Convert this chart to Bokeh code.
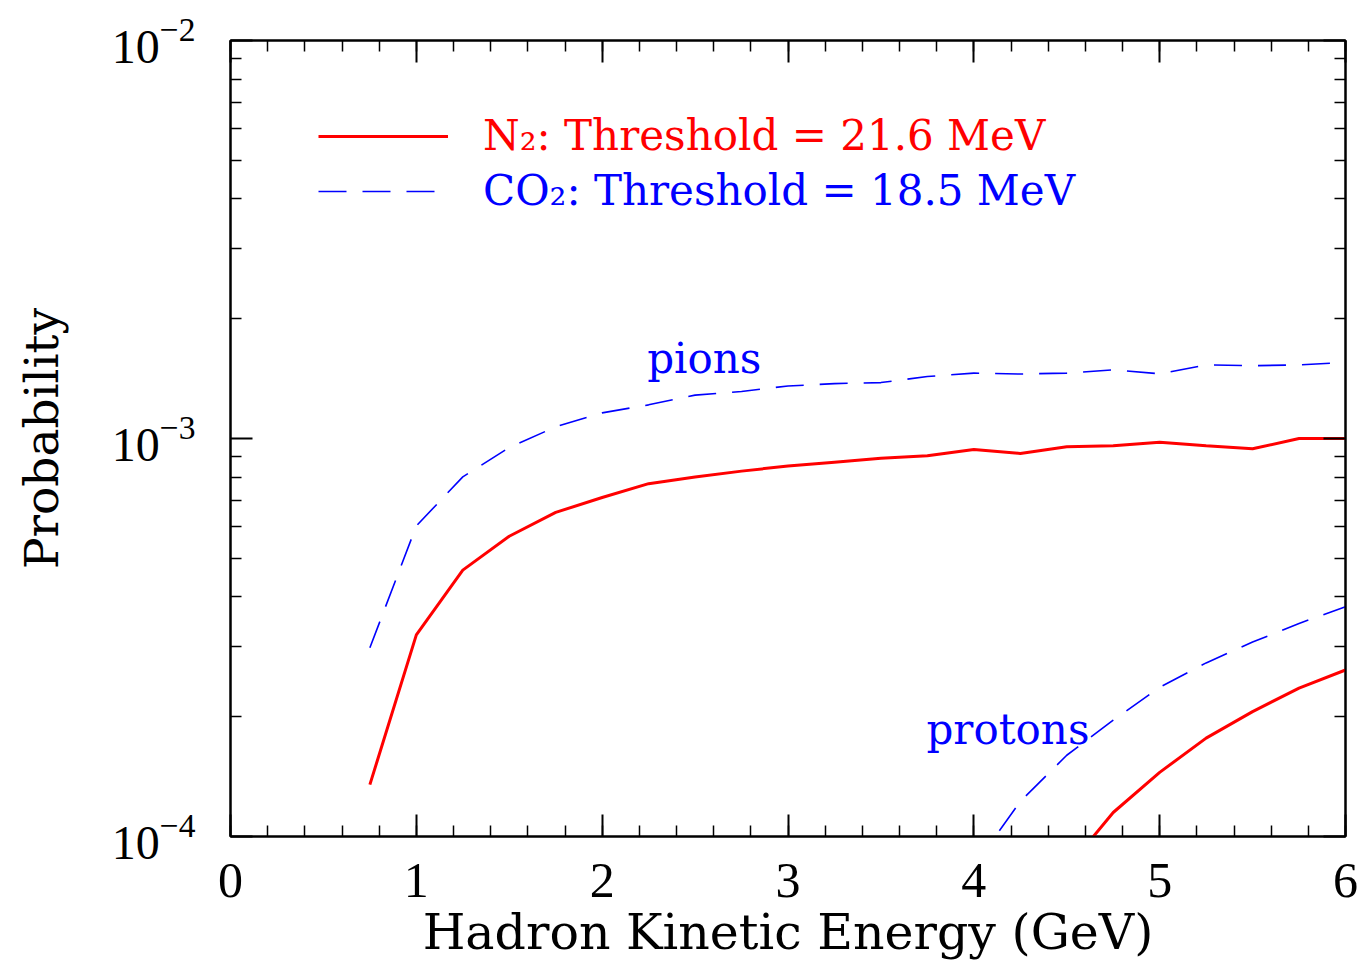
from bokeh.plotting import figure
from bokeh.models import (LinearAxis, LogAxis, SingleIntervalTicker, FixedTicker,
                          LogTickFormatter, Legend, LegendItem, Label, Range1d)
from bokeh.embed import file_html
from bokeh.resources import INLINE

# ---- data ----
energy_pions = [0.75, 1.0, 1.25, 1.5, 1.75, 2.0, 2.25, 2.5, 2.75, 3.0, 3.25,
                3.5, 3.75, 4.0, 4.25, 4.5, 4.75, 5.0, 5.25, 5.5, 5.75, 6.0]
n2_pions = [1.35e-4, 3.21e-4, 4.67e-4, 5.68e-4, 6.52e-4, 7.11e-4, 7.70e-4,
            8.00e-4, 8.28e-4, 8.53e-4, 8.72e-4, 8.92e-4, 9.05e-4, 9.38e-4,
            9.17e-4, 9.53e-4, 9.59e-4, 9.79e-4, 9.59e-4, 9.42e-4, 1.0e-3, 1.0e-3]
co2_pions = [2.98e-4, 6.03e-4, 8.01e-4, 9.49e-4, 1.07e-3, 1.16e-3, 1.215e-3,
             1.285e-3, 1.313e-3, 1.355e-3, 1.374e-3, 1.382e-3, 1.431e-3, 1.460e-3,
             1.452e-3, 1.460e-3, 1.488e-3, 1.454e-3, 1.531e-3, 1.524e-3, 1.531e-3, 1.552e-3]

energy_n2_protons = [4.5, 4.75, 5.0, 5.25, 5.5, 5.75, 6.0]
n2_protons = [8.3e-5, 1.149e-4, 1.449e-4, 1.767e-4, 2.06e-4, 2.36e-4, 2.62e-4]
energy_co2_protons = [4.0, 4.25, 4.5, 4.75, 5.0, 5.25, 5.5, 5.75, 6.0]
co2_protons = [8.4e-5, 1.225e-4, 1.60e-4, 1.96e-4, 2.37e-4, 2.73e-4, 3.08e-4, 3.43e-4, 3.78e-4]

y_major_ticks = [1e-4, 1e-3, 1e-2]
y_minor_ticks = [k * 1e-4 for k in range(2, 10)] + [k * 1e-3 for k in range(2, 10)]

legend_labels = ["N\u2082: Threshold = 21.6 MeV", "CO\u2082: Threshold = 18.5 MeV"]
x_title = "Hadron Kinetic Energy (GeV)"
y_title = "Probability"

SERIF = "DejaVu Serif"
NUM = "Liberation Serif"

p = figure(width=1363, height=963, x_range=Range1d(0, 6), y_range=Range1d(1e-4, 1e-2),
           y_axis_type="log", output_backend="svg", toolbar_location=None,
           min_border_left=230, min_border_right=18, min_border_top=40, min_border_bottom=127)
p.xgrid.grid_line_color = None
p.ygrid.grid_line_color = None
p.outline_line_color = "black"
p.outline_line_width = 2
p.background_fill_color = "white"
p.border_fill_color = "white"

bottom = p.below[0]
left = p.left[0]
bottom.ticker = SingleIntervalTicker(interval=1, num_minor_ticks=5)
left.ticker = FixedTicker(ticks=y_major_ticks, minor_ticks=y_minor_ticks)
left.formatter = LogTickFormatter()

top = LinearAxis(ticker=SingleIntervalTicker(interval=1, num_minor_ticks=5))
right = LogAxis(ticker=FixedTicker(ticks=y_major_ticks, minor_ticks=y_minor_ticks))
p.add_layout(top, "above")
p.add_layout(right, "right")

for ax in [bottom, left, top, right]:
    ax.axis_line_color = "black"
    ax.axis_line_width = 2
    ax.major_tick_in = 22
    ax.major_tick_out = 0
    ax.minor_tick_in = 11
    ax.minor_tick_out = 0
    ax.major_tick_line_color = "black"
    ax.major_tick_line_width = 2
    ax.minor_tick_line_color = "black"
    ax.minor_tick_line_width = 1.5

for ax in [top, right]:
    ax.major_label_text_font_size = "0px"
    ax.major_label_text_alpha = 0
    ax.major_label_standoff = 0

bottom.major_label_text_font = NUM
bottom.major_label_text_font_size = "50px"
bottom.major_label_text_color = "black"
bottom.major_label_standoff = 27
bottom.axis_label = x_title
bottom.axis_label_text_font = SERIF
bottom.axis_label_text_font_size = "49px"
bottom.axis_label_text_font_style = "normal"
bottom.axis_label_text_color = "black"
bottom.axis_label_standoff = 4

left.major_label_text_font = NUM
left.major_label_text_font_size = "48px"
left.major_label_text_color = "black"
left.major_label_standoff = 35
left.axis_label = y_title
left.axis_label_text_font = SERIF
left.axis_label_text_font_size = "47px"
left.axis_label_text_font_style = "normal"
left.axis_label_text_color = "black"
left.axis_label_standoff = 40

r_n2 = p.line(energy_pions, n2_pions, line_color="red", line_width=3)
r_co2 = p.line(energy_pions, co2_pions, line_color="blue", line_width=1.6, line_dash="28 16")
p.line(energy_n2_protons, n2_protons, line_color="red", line_width=3)
p.line(energy_co2_protons, co2_protons, line_color="blue", line_width=1.6, line_dash="28 16")

def make_legend(label, renderer, color, loc):
    return Legend(items=[LegendItem(label=label, renderers=[renderer])], location=loc,
                  label_text_color=color, label_text_font=SERIF, label_text_font_size="42px",
                  glyph_width=130, glyph_height=20, label_standoff=35, padding=0, margin=0,
                  spacing=0, border_line_color=None, background_fill_alpha=0)

p.add_layout(make_legend(legend_labels[0], r_n2, "red", (88, 676)))
p.add_layout(make_legend(legend_labels[1], r_co2, "blue", (88, 621)))

p.add_layout(Label(x=2.242, y=1.586e-3, text="pions", text_font=SERIF, text_font_size="42px",
                   text_color="blue", text_baseline="alphabetic"))
p.add_layout(Label(x=3.745, y=1.854e-4, text="protons", text_font=SERIF, text_font_size="42px",
                   text_color="blue", text_baseline="alphabetic"))

open("out.html", "w").write(file_html(p, INLINE))
